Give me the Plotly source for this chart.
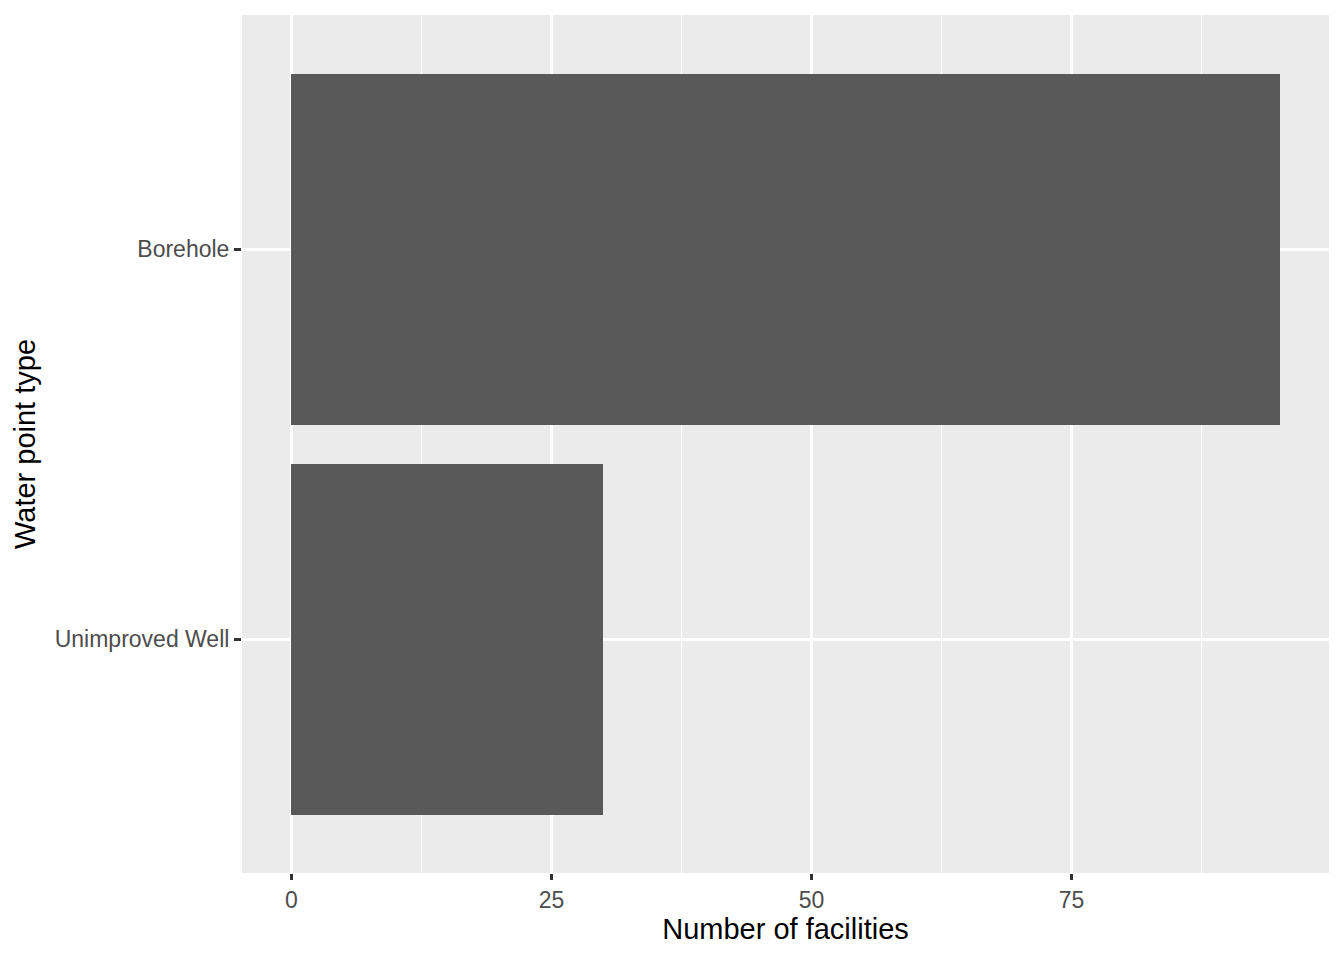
import plotly.graph_objects as go

categories = ["Borehole", "Unimproved Well"]
counts = [95, 30]

x_ticks = [0, 25, 50, 75]
x_minor = [12.5, 37.5, 62.5, 87.5]

fig = go.Figure(
    go.Bar(
        x=counts,
        y=categories,
        orientation="h",
        width=0.9,
        marker=dict(color="#595959", line=dict(width=0)),
        hoverinfo="x+y",
    )
)

xmax = max(counts)
pad = xmax * 0.05

fig.update_layout(
    width=1344,
    height=960,
    margin=dict(l=242, r=15, t=15, b=87),
    paper_bgcolor="white",
    plot_bgcolor="#EBEBEB",
    font=dict(family="Liberation Sans, Arial, sans-serif"),
    showlegend=False,
    bargap=0,
)

fig.update_xaxes(
    range=[-pad, xmax + pad],
    tickvals=x_ticks,
    ticktext=[str(v) for v in x_ticks],
    showgrid=True,
    gridcolor="white",
    gridwidth=2.6,
    zeroline=False,
    ticks="outside",
    ticklen=6,
    tickwidth=2.6,
    tickcolor="#333333",
    tickfont=dict(size=23, color="#4D4D4D"),
    title=dict(text="Number of facilities", font=dict(size=29, color="black"), standoff=5),
    minor=dict(tickvals=x_minor, showgrid=True, gridcolor="white", gridwidth=1.3, ticklen=0),
    showline=False,
)

fig.update_yaxes(
    type="category",
    categoryorder="array",
    categoryarray=["Unimproved Well", "Borehole"],
    range=[-0.6, 1.6],
    showgrid=True,
    gridcolor="white",
    gridwidth=2.6,
    zeroline=False,
    ticks="outside",
    ticklen=7,
    tickwidth=2.6,
    tickcolor="#333333",
    tickfont=dict(size=23, color="#4D4D4D"),
    title=dict(text="Water point type", font=dict(size=29, color="black"), standoff=10),
    showline=False,
)

fig.write_html(
    "out.html",
    config={"displayModeBar": False},
    post_script="document.body.style.margin='0';document.body.style.padding='0';",
)
